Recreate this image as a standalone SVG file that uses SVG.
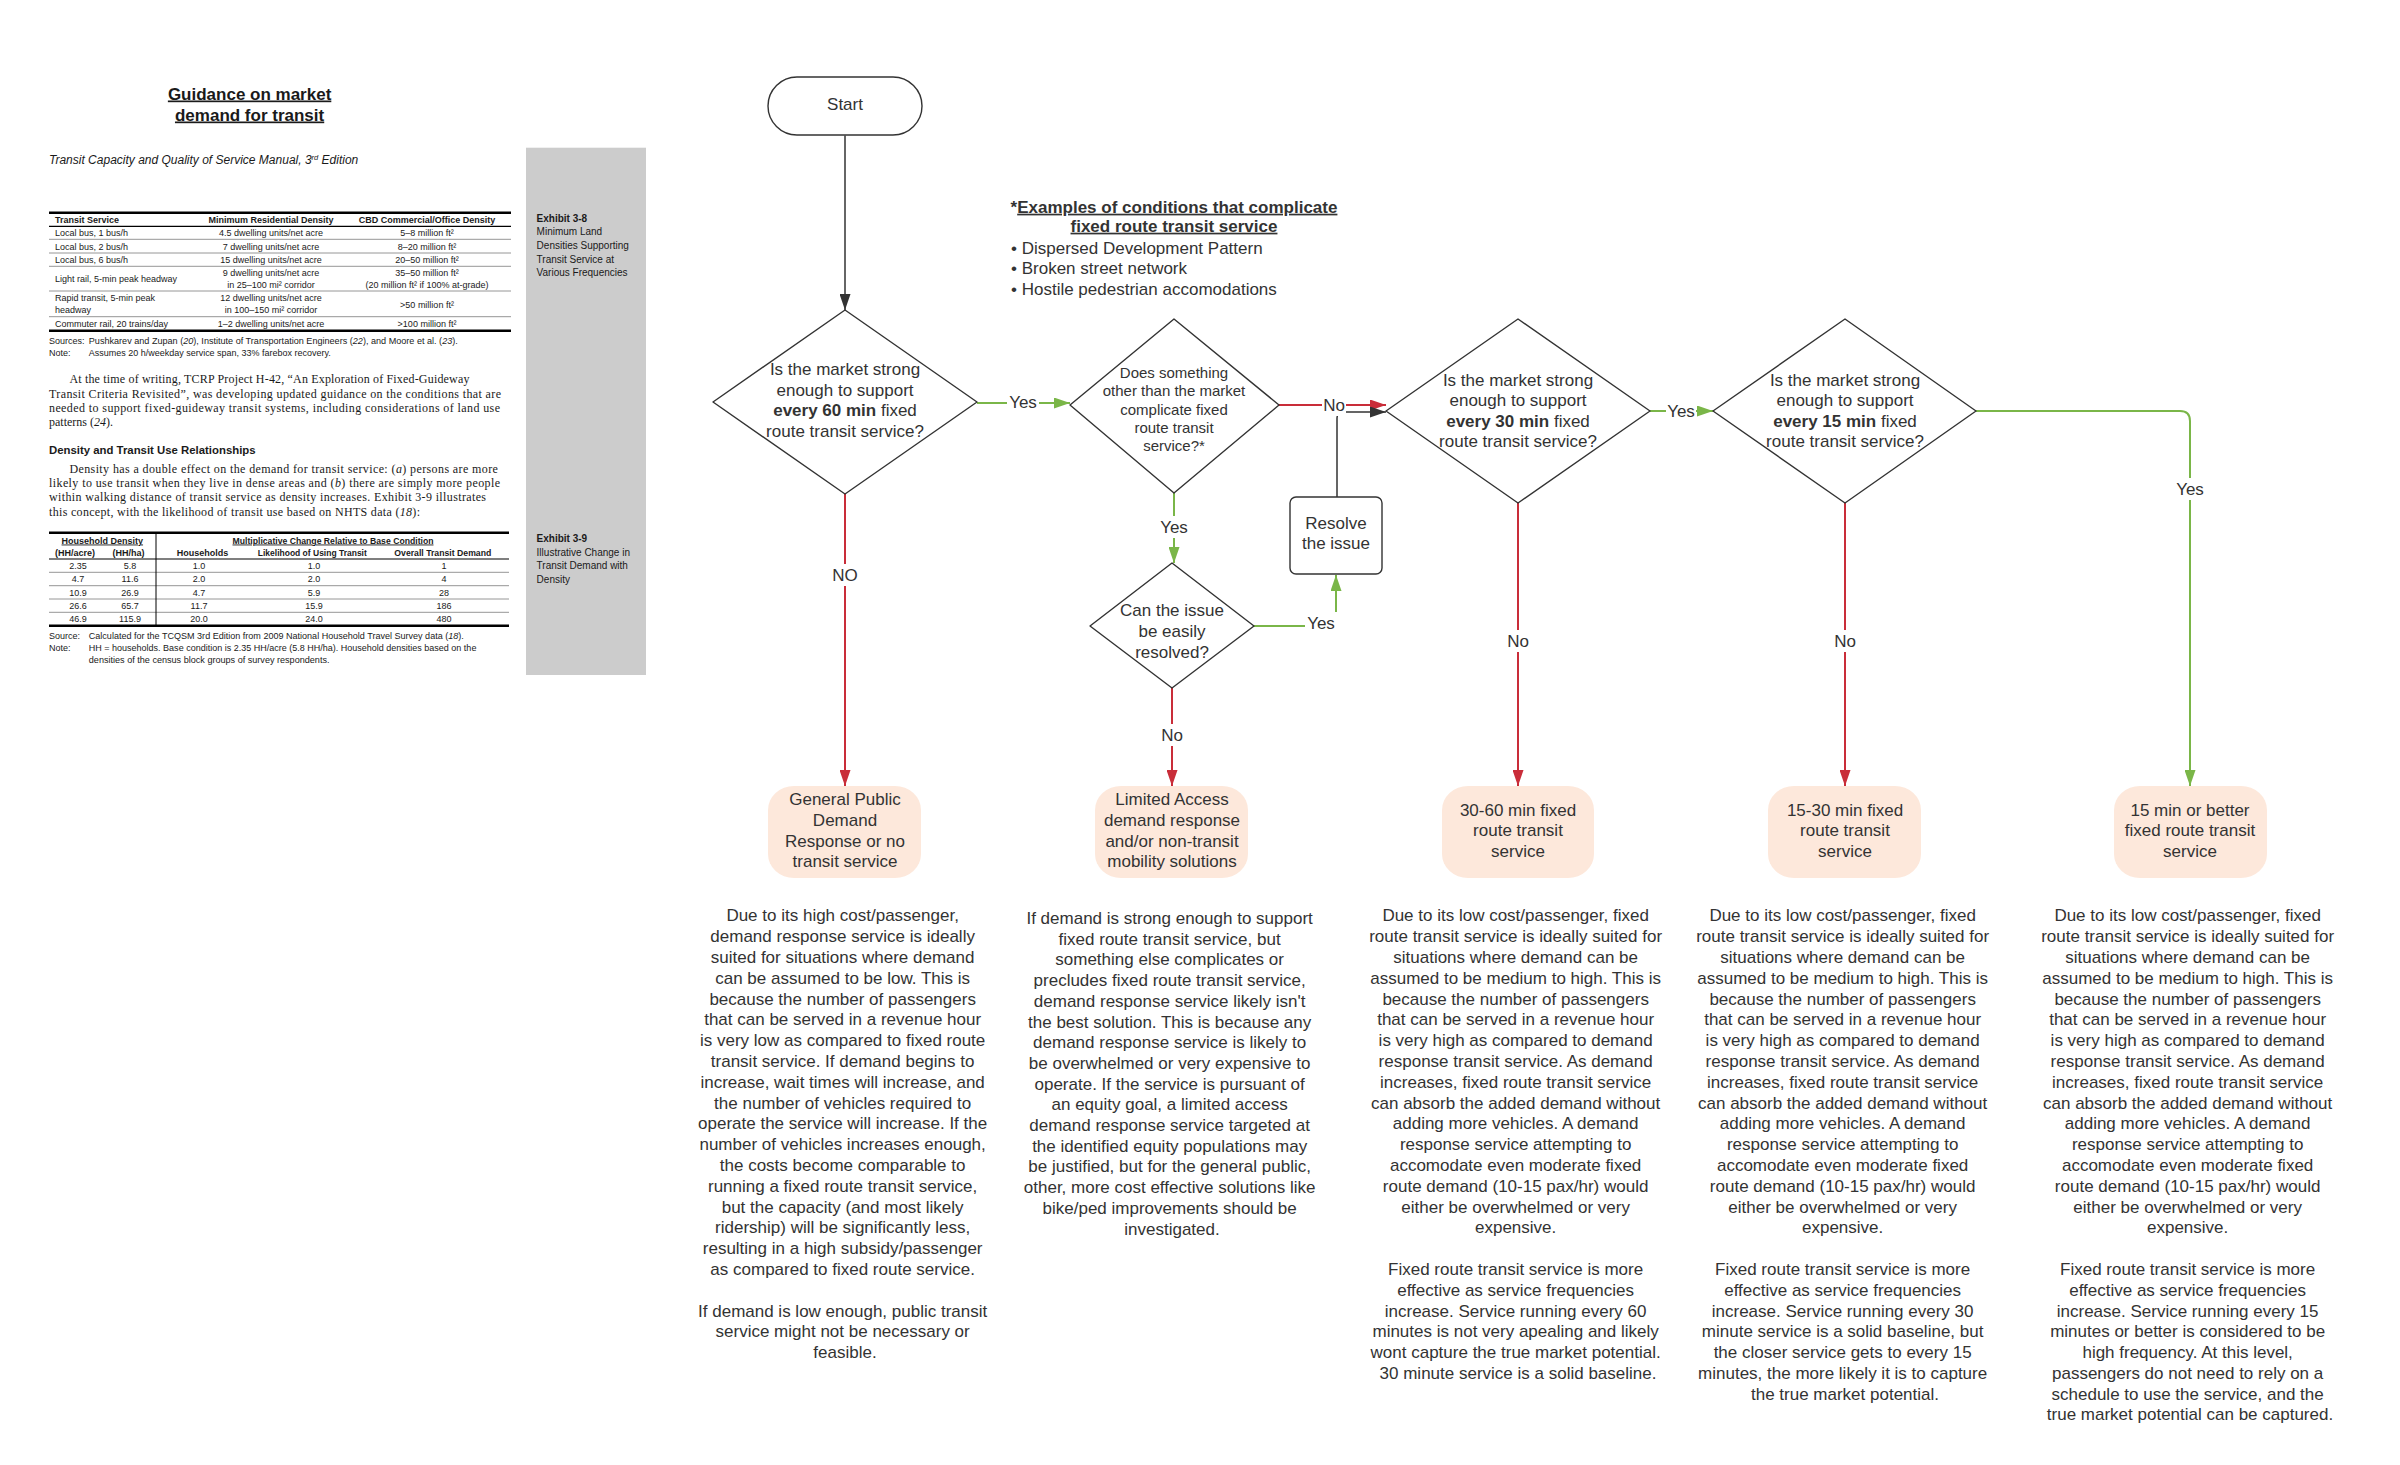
<svg xmlns="http://www.w3.org/2000/svg" width="2400" height="1465" viewBox="0 0 2400 1465">
<style>
.lp{font-family:"Liberation Sans",Arial,sans-serif;font-size:9px;fill:#1a1a1a}
.lpb{font-family:"Liberation Sans",Arial,sans-serif;font-size:9px;fill:#1a1a1a;font-weight:bold}
.ser{font-family:"Liberation Serif","Times New Roman",serif;font-size:12px;fill:#1a1a1a}
.ex{font-family:"Liberation Sans",Arial,sans-serif;font-size:10px;fill:#1a1a1a}
.ft{font-family:"Liberation Sans",Arial,sans-serif;font-size:17px;fill:#333}
.f15{font-family:"Liberation Sans",Arial,sans-serif;font-size:15px;fill:#333}
.c{text-anchor:middle}
.dia{fill:#fff;stroke:#333;stroke-width:1.4;stroke-linejoin:round}
.term{fill:#fde8db;stroke:none}
.red{fill:none;stroke:#c92d39;stroke-width:2}
.grn{fill:none;stroke:#7ab648;stroke-width:2}
.blk{fill:none;stroke:#333;stroke-width:1.5}
.thick{stroke:#000;stroke-width:2.5}
.med{stroke:#000;stroke-width:1.2}
.thin{stroke:#8a8a8a;stroke-width:0.9}
.lbg{fill:#fff}
</style>
<defs>
<marker id="mr" viewBox="0 0 16 11" refX="16" refY="5.5" markerWidth="16" markerHeight="11" markerUnits="userSpaceOnUse" orient="auto"><path d="M0,0 L16,5.5 L0,11 z" fill="#c92d39"/></marker>
<marker id="mg" viewBox="0 0 16 11" refX="16" refY="5.5" markerWidth="16" markerHeight="11" markerUnits="userSpaceOnUse" orient="auto"><path d="M0,0 L16,5.5 L0,11 z" fill="#7ab648"/></marker>
<marker id="mk" viewBox="0 0 16 11" refX="16" refY="5.5" markerWidth="16" markerHeight="11" markerUnits="userSpaceOnUse" orient="auto"><path d="M0,0 L16,5.5 L0,11 z" fill="#333"/></marker>
</defs>
<rect x="0" y="0" width="2400" height="1465" fill="#fff"/>

<!-- Left panel -->
<g id="left-panel">
<rect x="526" y="147.7" width="120" height="527.3" fill="#cccccc"/>
<text x="249.6" y="99.5" class="c" font-family="Liberation Sans, Arial, sans-serif" font-size="17" font-weight="bold" fill="#1a1a1a" text-decoration="underline">Guidance on market</text>
<text x="249.6" y="120.5" class="c" font-family="Liberation Sans, Arial, sans-serif" font-size="17" font-weight="bold" fill="#1a1a1a" text-decoration="underline">demand for transit</text>
<text x="49" y="164" font-family="Liberation Sans, Arial, sans-serif" font-size="12" font-style="italic" fill="#1a1a1a">Transit Capacity and Quality of Service Manual, 3<tspan font-size="7.5" dy="-4.5">rd</tspan><tspan dy="4.5"> Edition</tspan></text>

<g id="table1">
<line x1="49" y1="212.7" x2="511" y2="212.7" class="thick"/>
<line x1="49" y1="226.3" x2="511" y2="226.3" class="med"/>
<line x1="49" y1="239.3" x2="511" y2="239.3" class="thin"/>
<line x1="49" y1="253" x2="511" y2="253" class="thin"/>
<line x1="49" y1="266.3" x2="511" y2="266.3" class="thin"/>
<line x1="49" y1="291" x2="511" y2="291" class="thin"/>
<line x1="49" y1="316.7" x2="511" y2="316.7" class="thin"/>
<line x1="49" y1="330.7" x2="511" y2="330.7" class="thick"/>
<text x="55" y="223.2" class="lpb">Transit Service</text>
<text x="271" y="223.2" class="lpb c">Minimum Residential Density</text>
<text x="427" y="223.2" class="lpb c">CBD Commercial/Office Density</text>
<text x="55" y="236.2" class="lp">Local bus, 1 bus/h</text>
<text x="271" y="236.2" class="lp c">4.5 dwelling units/net acre</text>
<text x="427" y="236.2" class="lp c">5–8 million ft²</text>
<text x="55" y="250" class="lp">Local bus, 2 bus/h</text>
<text x="271" y="250" class="lp c">7 dwelling units/net acre</text>
<text x="427" y="250" class="lp c">8–20 million ft²</text>
<text x="55" y="263.2" class="lp">Local bus, 6 bus/h</text>
<text x="271" y="263.2" class="lp c">15 dwelling units/net acre</text>
<text x="427" y="263.2" class="lp c">20–50 million ft²</text>
<text x="55" y="282.2" class="lp">Light rail, 5-min peak headway</text>
<text x="271" y="276" class="lp c">9 dwelling units/net acre</text>
<text x="271" y="288.2" class="lp c">in 25–100 mi² corridor</text>
<text x="427" y="276" class="lp c">35–50 million ft²</text>
<text x="427" y="288.2" class="lp c">(20 million ft² if 100% at-grade)</text>
<text x="55" y="301.2" class="lp">Rapid transit, 5-min peak</text>
<text x="55" y="313.2" class="lp">headway</text>
<text x="271" y="301.2" class="lp c">12 dwelling units/net acre</text>
<text x="271" y="313.2" class="lp c">in 100–150 mi² corridor</text>
<text x="427" y="307.5" class="lp c">&gt;50 million ft²</text>
<text x="55" y="327.2" class="lp">Commuter rail, 20 trains/day</text>
<text x="271" y="327.2" class="lp c">1–2 dwelling units/net acre</text>
<text x="427" y="327.2" class="lp c">&gt;100 million ft²</text>
<text x="49" y="343.7" class="lp">Sources:</text>
<text x="88.8" y="343.7" class="lp" textLength="369" lengthAdjust="spacingAndGlyphs">Pushkarev and Zupan (<tspan font-style="italic">20</tspan>), Institute of Transportation Engineers (<tspan font-style="italic">22</tspan>), and Moore et al. (<tspan font-style="italic">23</tspan>).</text>
<text x="49" y="355.7" class="lp">Note:</text>
<text x="88.8" y="355.7" class="lp" textLength="242" lengthAdjust="spacingAndGlyphs">Assumes 20 h/weekday service span, 33% farebox recovery.</text>
</g>

<g id="paragraph1">
<text x="69.4" y="383.3" class="ser" textLength="400" lengthAdjust="spacing">At the time of writing, TCRP Project H-42, “An Exploration of Fixed-Guideway</text>
<text x="49" y="397.7" class="ser" textLength="452" lengthAdjust="spacing">Transit Criteria Revisited”, was developing updated guidance on the conditions that are</text>
<text x="49" y="411.7" class="ser" textLength="451" lengthAdjust="spacing">needed to support fixed-guideway transit systems, including considerations of land use</text>
<text x="49" y="425.7" class="ser">patterns (<tspan font-style="italic">24</tspan>).</text>
<text x="49" y="454" font-family="Liberation Sans, Arial, sans-serif" font-size="11.5" font-weight="bold" fill="#1a1a1a" textLength="206.6" lengthAdjust="spacingAndGlyphs">Density and Transit Use Relationships</text>
<text x="69.4" y="473" class="ser" textLength="428.5" lengthAdjust="spacing">Density has a double effect on the demand for transit service: (<tspan font-style="italic">a</tspan>) persons are more</text>
<text x="49" y="487.3" class="ser" textLength="451" lengthAdjust="spacing">likely to use transit when they live in dense areas and (<tspan font-style="italic">b</tspan>) there are simply more people</text>
<text x="49" y="501.3" class="ser" textLength="437" lengthAdjust="spacing">within walking distance of transit service as density increases. Exhibit 3-9 illustrates</text>
<text x="49" y="515.7" class="ser" textLength="371" lengthAdjust="spacing">this concept, with the likelihood of transit use based on NHTS data (<tspan font-style="italic">18</tspan>):</text>
</g>

<g id="table2">
<line x1="49" y1="532.7" x2="509" y2="532.7" class="thick"/>
<line x1="49" y1="559" x2="509" y2="559" class="med"/>
<line x1="49" y1="572.3" x2="509" y2="572.3" class="thin"/>
<line x1="49" y1="585.7" x2="509" y2="585.7" class="thin"/>
<line x1="49" y1="599" x2="509" y2="599" class="thin"/>
<line x1="49" y1="612.3" x2="509" y2="612.3" class="thin"/>
<line x1="49" y1="625.7" x2="509" y2="625.7" class="thick"/>
<line x1="156" y1="532.7" x2="156" y2="625.7" stroke="#000" stroke-width="1"/>
<text x="102.3" y="543.5" class="lpb c" font-size="8.5" text-decoration="underline">Household Density</text>
<text x="333" y="543.5" class="lpb c" font-size="8.5" text-decoration="underline" textLength="201" lengthAdjust="spacingAndGlyphs">Multiplicative Change Relative to Base Condition</text>
<text x="75" y="555.5" class="lpb c" font-size="8.5">(HH/acre)</text>
<text x="128.4" y="555.5" class="lpb c" font-size="8.5">(HH/ha)</text>
<text x="202.4" y="555.5" class="lpb c" font-size="8.5">Households</text>
<text x="312.3" y="555.5" class="lpb c" font-size="8.5" textLength="109" lengthAdjust="spacingAndGlyphs">Likelihood of Using Transit</text>
<text x="442.8" y="555.5" class="lpb c" font-size="8.5" textLength="97" lengthAdjust="spacingAndGlyphs">Overall Transit Demand</text>
<g class="lp c">
<text x="78" y="569">2.35</text><text x="130" y="569">5.8</text><text x="199" y="569">1.0</text><text x="314" y="569">1.0</text><text x="444" y="569">1</text>
<text x="78" y="582.2">4.7</text><text x="130" y="582.2">11.6</text><text x="199" y="582.2">2.0</text><text x="314" y="582.2">2.0</text><text x="444" y="582.2">4</text>
<text x="78" y="595.5">10.9</text><text x="130" y="595.5">26.9</text><text x="199" y="595.5">4.7</text><text x="314" y="595.5">5.9</text><text x="444" y="595.5">28</text>
<text x="78" y="609">26.6</text><text x="130" y="609">65.7</text><text x="199" y="609">11.7</text><text x="314" y="609">15.9</text><text x="444" y="609">186</text>
<text x="78" y="622.2">46.9</text><text x="130" y="622.2">115.9</text><text x="199" y="622.2">20.0</text><text x="314" y="622.2">24.0</text><text x="444" y="622.2">480</text>
</g>
<text x="49" y="638.7" class="lp">Source:</text>
<text x="88.8" y="638.7" class="lp" textLength="375" lengthAdjust="spacingAndGlyphs">Calculated for the TCQSM 3rd Edition from 2009 National Household Travel Survey data (<tspan font-style="italic">18</tspan>).</text>
<text x="49" y="650.7" class="lp">Note:</text>
<text x="88.8" y="650.7" class="lp" textLength="387.6" lengthAdjust="spacingAndGlyphs">HH = households. Base condition is 2.35 HH/acre (5.8 HH/ha). Household densities based on the</text>
<text x="88.8" y="663" class="lp" textLength="240.7" lengthAdjust="spacingAndGlyphs">densities of the census block groups of survey respondents.</text>
</g>

<g id="exhibits">
<text x="536.6" y="221.8" class="ex" font-weight="bold">Exhibit 3-8</text>
<text x="536.6" y="235.2" class="ex">Minimum Land</text>
<text x="536.6" y="248.8" class="ex">Densities Supporting</text>
<text x="536.6" y="262.5" class="ex">Transit Service at</text>
<text x="536.6" y="275.8" class="ex">Various Frequencies</text>
<text x="536.6" y="542.2" class="ex" font-weight="bold">Exhibit 3-9</text>
<text x="536.6" y="555.5" class="ex">Illustrative Change in</text>
<text x="536.6" y="569.2" class="ex">Transit Demand with</text>
<text x="536.6" y="582.5" class="ex">Density</text>
</g>
</g>

<!-- Connectors -->
<g id="connectors">
<path d="M845,135.5 L845,310" class="blk" marker-end="url(#mk)"/>
<path d="M977,403 L1070,403" class="grn" marker-end="url(#mg)"/>
<path d="M1279,405 L1386,405" class="red" marker-end="url(#mr)"/>
<path d="M1337,497 L1337,418 Q1337,412 1343,412 L1386,412" class="blk" marker-end="url(#mk)"/>
<path d="M1174,493 L1174,563" class="grn" marker-end="url(#mg)"/>
<path d="M1254,626 L1336,626 L1336,575" class="grn" marker-end="url(#mg)"/>
<path d="M1172,688 L1172,786" class="red" marker-end="url(#mr)"/>
<path d="M845,494 L845,786" class="red" marker-end="url(#mr)"/>
<path d="M1650,411 L1713,411" class="grn" marker-end="url(#mg)"/>
<path d="M1518,503 L1518,786" class="red" marker-end="url(#mr)"/>
<path d="M1845,503 L1845,786" class="red" marker-end="url(#mr)"/>
<path d="M1976,411 L2180,411 Q2190,411 2190,421 L2190,786" class="grn" marker-end="url(#mg)"/>
<g id="labels">
<rect x="1007" y="391" width="32" height="22" class="lbg"/><text x="1023" y="408" class="ft c">Yes</text>
<rect x="1322" y="394" width="24" height="22" class="lbg"/><text x="1334" y="411" class="ft c">No</text>
<rect x="1158" y="516" width="32" height="22" class="lbg"/><text x="1174" y="533" class="ft c">Yes</text>
<rect x="1305" y="612" width="32" height="22" class="lbg"/><text x="1321" y="629" class="ft c">Yes</text>
<rect x="1160" y="724" width="24" height="22" class="lbg"/><text x="1172" y="741" class="ft c">No</text>
<rect x="831" y="564" width="28" height="22" class="lbg"/><text x="845" y="581" class="ft c">NO</text>
<rect x="1666" y="400" width="30" height="22" class="lbg"/><text x="1681" y="417" class="ft c">Yes</text>
<rect x="1506" y="630" width="24" height="22" class="lbg"/><text x="1518" y="647" class="ft c">No</text>
<rect x="1833" y="630" width="24" height="22" class="lbg"/><text x="1845" y="647" class="ft c">No</text>
<rect x="2174" y="478" width="32" height="22" class="lbg"/><text x="2190" y="495" class="ft c">Yes</text>
</g>
</g>

<!-- Nodes -->
<g id="start">
<rect x="768" y="77" width="154" height="58" rx="29" ry="29" class="dia"/>
<text x="845" y="110" class="ft c">Start</text>
</g>
<g id="d1">
<polygon points="845,310 977,402 845,494 713,402" class="dia"/>
<text x="845" y="375" class="ft c">Is the market strong</text>
<text x="845" y="395.5" class="ft c">enough to support</text>
<text x="845" y="416" class="ft c"><tspan font-weight="bold">every 60 min</tspan> fixed</text>
<text x="845" y="436.5" class="ft c">route transit service?</text>
</g>
<g id="d2">
<polygon points="1174,319 1279,405 1174,493 1070,405" class="dia"/>
<text x="1174" y="378" class="f15 c">Does something</text>
<text x="1174" y="396.3" class="f15 c">other than the market</text>
<text x="1174" y="414.6" class="f15 c">complicate fixed</text>
<text x="1174" y="433" class="f15 c">route transit</text>
<text x="1174" y="451.3" class="f15 c">service?*</text>
</g>
<g id="d3">
<polygon points="1518,319 1650,411 1518,503 1386,411" class="dia"/>
<text x="1518" y="385.5" class="ft c">Is the market strong</text>
<text x="1518" y="406" class="ft c">enough to support</text>
<text x="1518" y="426.5" class="ft c"><tspan font-weight="bold">every 30 min</tspan> fixed</text>
<text x="1518" y="447" class="ft c">route transit service?</text>
</g>
<g id="d5">
<polygon points="1845,319 1976,411 1845,503 1713,411" class="dia"/>
<text x="1845" y="385.5" class="ft c">Is the market strong</text>
<text x="1845" y="406" class="ft c">enough to support</text>
<text x="1845" y="426.5" class="ft c"><tspan font-weight="bold">every 15 min</tspan> fixed</text>
<text x="1845" y="447" class="ft c">route transit service?</text>
</g>
<g id="d4">
<polygon points="1172,563 1254,626 1172,688 1090,626" class="dia"/>
<text x="1172" y="616" class="ft c">Can the issue</text>
<text x="1172" y="637" class="ft c">be easily</text>
<text x="1172" y="657.5" class="ft c">resolved?</text>
</g>
<g id="resolve">
<rect x="1290" y="497" width="92" height="77" rx="6" ry="6" class="dia"/>
<text x="1336" y="528.7" class="ft c">Resolve</text>
<text x="1336" y="549.3" class="ft c">the issue</text>
</g>
<g id="t1">
<rect x="768" y="786" width="153" height="92" rx="26" ry="24" class="term"/>
<text x="845" y="805" class="ft c">General Public</text>
<text x="845" y="826" class="ft c">Demand</text>
<text x="845" y="847" class="ft c">Response or no</text>
<text x="845" y="867" class="ft c">transit service</text>
</g>
<g id="t2">
<rect x="1095" y="786" width="153" height="92" rx="26" ry="24" class="term"/>
<text x="1172" y="805" class="ft c">Limited Access</text>
<text x="1172" y="826" class="ft c">demand response</text>
<text x="1172" y="847" class="ft c">and/or non-transit</text>
<text x="1172" y="867" class="ft c">mobility solutions</text>
</g>
<g id="t3">
<rect x="1442" y="786" width="152" height="92" rx="26" ry="24" class="term"/>
<text x="1518" y="815.5" class="ft c">30-60 min fixed</text>
<text x="1518" y="836" class="ft c">route transit</text>
<text x="1518" y="856.5" class="ft c">service</text>
</g>
<g id="t4">
<rect x="1768" y="786" width="153" height="92" rx="26" ry="24" class="term"/>
<text x="1845" y="815.5" class="ft c">15-30 min fixed</text>
<text x="1845" y="836" class="ft c">route transit</text>
<text x="1845" y="856.5" class="ft c">service</text>
</g>
<g id="t5">
<rect x="2114" y="786" width="153" height="92" rx="26" ry="24" class="term"/>
<text x="2190" y="815.5" class="ft c">15 min or better</text>
<text x="2190" y="836" class="ft c">fixed route transit</text>
<text x="2190" y="856.5" class="ft c">service</text>
</g>

<!-- Examples note -->
<g id="examples">
<text x="1174" y="212.7" class="ft c" font-weight="bold"><tspan>*</tspan><tspan text-decoration="underline">Examples of conditions that complicate</tspan></text>
<text x="1174" y="231.7" class="ft c" font-weight="bold" text-decoration="underline">fixed route transit service</text>
<text x="1011" y="253.7" class="ft">• Dispersed Development Pattern</text>
<text x="1011" y="274.3" class="ft">• Broken street network</text>
<text x="1011" y="295.3" class="ft">• Hostile pedestrian accomodations</text>
</g>

<!-- Description columns -->
<g id="desc1">
<text class="ft c" y="921.3">
<tspan x="845">Due to its high cost/passenger,</tspan>
<tspan x="845" dy="20.8">demand response service is ideally</tspan>
<tspan x="845" dy="20.8">suited for situations where demand</tspan>
<tspan x="845" dy="20.8">can be assumed to be low. This is</tspan>
<tspan x="845" dy="20.8">because the number of passengers</tspan>
<tspan x="845" dy="20.8">that can be served in a revenue hour</tspan>
<tspan x="845" dy="20.8">is very low as compared to fixed route</tspan>
<tspan x="845" dy="20.8">transit service. If demand begins to</tspan>
<tspan x="845" dy="20.8">increase, wait times will increase, and</tspan>
<tspan x="845" dy="20.8">the number of vehicles required to</tspan>
<tspan x="845" dy="20.8">operate the service will increase. If the</tspan>
<tspan x="845" dy="20.8">number of vehicles increases enough,</tspan>
<tspan x="845" dy="20.8">the costs become comparable to</tspan>
<tspan x="845" dy="20.8">running a fixed route transit service,</tspan>
<tspan x="845" dy="20.8">but the capacity (and most likely</tspan>
<tspan x="845" dy="20.8">ridership) will be significantly less,</tspan>
<tspan x="845" dy="20.8">resulting in a high subsidy/passenger</tspan>
<tspan x="845" dy="20.8">as compared to fixed route service.</tspan>
<tspan x="845" dy="41.6">If demand is low enough, public transit</tspan>
<tspan x="845" dy="20.8">service might not be necessary or</tspan>
<tspan x="845" dy="20.8">feasible.</tspan>
</text>
</g>
<g id="desc2">
<text class="ft c" y="924">
<tspan x="1172">If demand is strong enough to support</tspan>
<tspan x="1172" dy="20.7">fixed route transit service, but</tspan>
<tspan x="1172" dy="20.7">something else complicates or</tspan>
<tspan x="1172" dy="20.7">precludes fixed route transit service,</tspan>
<tspan x="1172" dy="20.7">demand response service likely isn't</tspan>
<tspan x="1172" dy="20.7">the best solution. This is because any</tspan>
<tspan x="1172" dy="20.7">demand response service is likely to</tspan>
<tspan x="1172" dy="20.7">be overwhelmed or very expensive to</tspan>
<tspan x="1172" dy="20.7">operate. If the service is pursuant of</tspan>
<tspan x="1172" dy="20.7">an equity goal, a limited access</tspan>
<tspan x="1172" dy="20.7">demand response service targeted at</tspan>
<tspan x="1172" dy="20.7">the identified equity populations may</tspan>
<tspan x="1172" dy="20.7">be justified, but for the general public,</tspan>
<tspan x="1172" dy="20.7">other, more cost effective solutions like</tspan>
<tspan x="1172" dy="20.7">bike/ped improvements should be</tspan>
<tspan x="1172" dy="20.7">investigated.</tspan>
</text>
</g>
<g id="desc3">
<text class="ft c" y="921.3">
<tspan x="1518">Due to its low cost/passenger, fixed</tspan>
<tspan x="1518" dy="20.8">route transit service is ideally suited for</tspan>
<tspan x="1518" dy="20.8">situations where demand can be</tspan>
<tspan x="1518" dy="20.8">assumed to be medium to high. This is</tspan>
<tspan x="1518" dy="20.8">because the number of passengers</tspan>
<tspan x="1518" dy="20.8">that can be served in a revenue hour</tspan>
<tspan x="1518" dy="20.8">is very high as compared to demand</tspan>
<tspan x="1518" dy="20.8">response transit service. As demand</tspan>
<tspan x="1518" dy="20.8">increases, fixed route transit service</tspan>
<tspan x="1518" dy="20.8">can absorb the added demand without</tspan>
<tspan x="1518" dy="20.8">adding more vehicles. A demand</tspan>
<tspan x="1518" dy="20.8">response service attempting to</tspan>
<tspan x="1518" dy="20.8">accomodate even moderate fixed</tspan>
<tspan x="1518" dy="20.8">route demand (10-15 pax/hr) would</tspan>
<tspan x="1518" dy="20.8">either be overwhelmed or very</tspan>
<tspan x="1518" dy="20.8">expensive.</tspan>
<tspan x="1518" dy="41.6">Fixed route transit service is more</tspan>
<tspan x="1518" dy="20.8">effective as service frequencies</tspan>
<tspan x="1518" dy="20.8">increase. Service running every 60</tspan>
<tspan x="1518" dy="20.8">minutes is not very apealing and likely</tspan>
<tspan x="1518" dy="20.8">wont capture the true market potential.</tspan>
<tspan x="1518" dy="20.8">30 minute service is a solid baseline.</tspan>
</text>
</g>
<g id="desc4">
<text class="ft c" y="921.3">
<tspan x="1845">Due to its low cost/passenger, fixed</tspan>
<tspan x="1845" dy="20.8">route transit service is ideally suited for</tspan>
<tspan x="1845" dy="20.8">situations where demand can be</tspan>
<tspan x="1845" dy="20.8">assumed to be medium to high. This is</tspan>
<tspan x="1845" dy="20.8">because the number of passengers</tspan>
<tspan x="1845" dy="20.8">that can be served in a revenue hour</tspan>
<tspan x="1845" dy="20.8">is very high as compared to demand</tspan>
<tspan x="1845" dy="20.8">response transit service. As demand</tspan>
<tspan x="1845" dy="20.8">increases, fixed route transit service</tspan>
<tspan x="1845" dy="20.8">can absorb the added demand without</tspan>
<tspan x="1845" dy="20.8">adding more vehicles. A demand</tspan>
<tspan x="1845" dy="20.8">response service attempting to</tspan>
<tspan x="1845" dy="20.8">accomodate even moderate fixed</tspan>
<tspan x="1845" dy="20.8">route demand (10-15 pax/hr) would</tspan>
<tspan x="1845" dy="20.8">either be overwhelmed or very</tspan>
<tspan x="1845" dy="20.8">expensive.</tspan>
<tspan x="1845" dy="41.6">Fixed route transit service is more</tspan>
<tspan x="1845" dy="20.8">effective as service frequencies</tspan>
<tspan x="1845" dy="20.8">increase. Service running every 30</tspan>
<tspan x="1845" dy="20.8">minute service is a solid baseline, but</tspan>
<tspan x="1845" dy="20.8">the closer service gets to every 15</tspan>
<tspan x="1845" dy="20.8">minutes, the more likely it is to capture</tspan>
<tspan x="1845" dy="20.8">the true market potential.</tspan>
</text>
</g>
<g id="desc5">
<text class="ft c" y="921.3">
<tspan x="2190">Due to its low cost/passenger, fixed</tspan>
<tspan x="2190" dy="20.8">route transit service is ideally suited for</tspan>
<tspan x="2190" dy="20.8">situations where demand can be</tspan>
<tspan x="2190" dy="20.8">assumed to be medium to high. This is</tspan>
<tspan x="2190" dy="20.8">because the number of passengers</tspan>
<tspan x="2190" dy="20.8">that can be served in a revenue hour</tspan>
<tspan x="2190" dy="20.8">is very high as compared to demand</tspan>
<tspan x="2190" dy="20.8">response transit service. As demand</tspan>
<tspan x="2190" dy="20.8">increases, fixed route transit service</tspan>
<tspan x="2190" dy="20.8">can absorb the added demand without</tspan>
<tspan x="2190" dy="20.8">adding more vehicles. A demand</tspan>
<tspan x="2190" dy="20.8">response service attempting to</tspan>
<tspan x="2190" dy="20.8">accomodate even moderate fixed</tspan>
<tspan x="2190" dy="20.8">route demand (10-15 pax/hr) would</tspan>
<tspan x="2190" dy="20.8">either be overwhelmed or very</tspan>
<tspan x="2190" dy="20.8">expensive.</tspan>
<tspan x="2190" dy="41.6">Fixed route transit service is more</tspan>
<tspan x="2190" dy="20.8">effective as service frequencies</tspan>
<tspan x="2190" dy="20.8">increase. Service running every 15</tspan>
<tspan x="2190" dy="20.8">minutes or better is considered to be</tspan>
<tspan x="2190" dy="20.8">high frequency. At this level,</tspan>
<tspan x="2190" dy="20.8">passengers do not need to rely on a</tspan>
<tspan x="2190" dy="20.8">schedule to use the service, and the</tspan>
<tspan x="2190" dy="20.8">true market potential can be captured.</tspan>
</text>
</g>
</svg>
